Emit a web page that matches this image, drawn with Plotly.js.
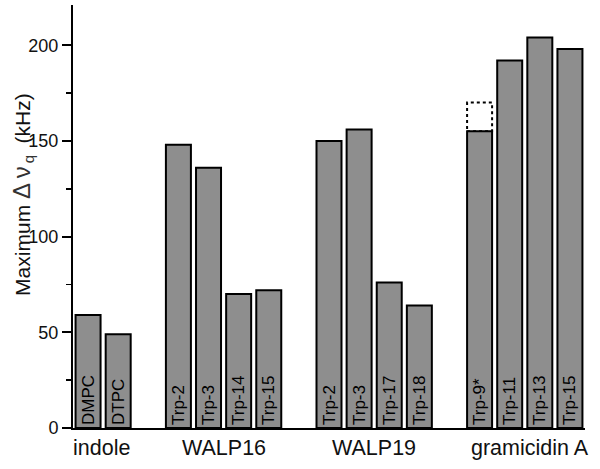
<!DOCTYPE html>
<html>
<head>
<meta charset="utf-8">
<script src="https://cdn.plot.ly/plotly-3.0.1.min.js"></script>
<style>html,body{margin:0;padding:0;background:#fff;}#chart{width:600px;height:469px;}</style>
</head>
<body>
<div id="chart"></div>
<script>
// Data
const groups = ["indole", "WALP16", "WALP19", "gramicidin A"];
const barLabels = [
  ["DMPC", "DTPC"],
  ["Trp-2", "Trp-3", "Trp-14", "Trp-15"],
  ["Trp-2", "Trp-3", "Trp-17", "Trp-18"],
  ["Trp-9*", "Trp-11", "Trp-13", "Trp-15"]
];
const barValues = [
  [59, 49],
  [148, 136, 70, 72],
  [150, 156, 76, 64],
  [155, 192, 204, 198]
];
// dotted extension for gramicidin A Trp-9*
const extGroup = 3, extIndex = 0, extValue = 170;
const yTicks = [0, 50, 100, 150, 200];
const yTitle = 'Maximum\u00a0<span style="font-size:24px;color:#333">Δ\u2009ν</span><sub style="color:#333">\u2009q</sub>\u00a0\u00a0(kHz)';

// Build positions
const xs = [], ys = [], txt = [], groupCenters = [];
const starts = [];
let s = 0;
groups.forEach((g, gi) => {
  starts.push(s);
  barValues[gi].forEach((v, i) => {
    xs.push(s + i); ys.push(v); txt.push(barLabels[gi][i]);
  });
  groupCenters.push(s + (barValues[gi].length - 1) / 2);
  s += barValues[gi].length + 1;
});
const xMax = s - 1.5;
const barW = 0.83;
const FONT = 'Liberation Sans, Arial, Helvetica, sans-serif';

const trace = {
  type: 'bar', x: xs, y: ys, text: txt, width: barW,
  textposition: 'inside', insidetextanchor: 'start', textangle: -90,
  constraintext: 'none',
  textfont: {family: FONT, size: 17, color: '#000'},
  marker: {color: '#8e8e8e', line: {color: '#000', width: 2}},
  hoverinfo: 'none'
};

const extX = starts[extGroup] + extIndex;
const shapes = [{
  type: 'rect', xref: 'x', yref: 'y', layer: 'below',
  x0: extX - barW / 2, x1: extX + barW / 2,
  y0: barValues[extGroup][extIndex], y1: extValue,
  line: {color: '#000', width: 2, dash: 'dot'}, fillcolor: 'rgba(0,0,0,0)'
}];

const annotations = groups.map((g, gi) => ({
  x: groupCenters[gi], y: 0, xref: 'x', yref: 'y', text: g, showarrow: false,
  yanchor: 'top', yshift: -6, xshift: gi === 3 ? 5 : (gi === 0 ? -2 : 0),
  font: {family: FONT, size: 21.5, color: '#111'}
}));
annotations.push({
  xref: 'paper', yref: 'paper', x: -0.1, y: 0.553, xanchor: 'center', yanchor: 'middle',
  text: yTitle, textangle: -90, showarrow: false,
  font: {family: FONT, size: 21, color: '#111'}
});

const layout = {
  width: 600, height: 469,
  margin: {l: 73, r: 15, t: 5, b: 41},
  paper_bgcolor: '#fff', plot_bgcolor: '#fff',
  showlegend: false,
  bargap: 0,
  font: {family: FONT, color: '#111'},
  xaxis: {
    range: [-0.5, xMax], showgrid: false, zeroline: false,
    showline: true, linecolor: '#000', linewidth: 2,
    showticklabels: false, ticks: ''
  },
  yaxis: {
    range: [0, 221], showgrid: false, zeroline: false,
    showline: true, linecolor: '#000', linewidth: 2,
    tickvals: yTicks, ticktext: yTicks.map(String),
    ticks: 'outside', ticklen: 9, tickwidth: 2, tickcolor: '#000',
    tickfont: {size: 18, color: '#111'},
    minor: {dtick: 25, ticks: 'outside', ticklen: 5, tickwidth: 1.5, tickcolor: '#000', tick0: 25},
    automargin: false
  },
  shapes: shapes,
  annotations: annotations
};

Plotly.newPlot('chart', [trace], layout, {displayModeBar: false, staticPlot: true});
</script>
</body>
</html>
